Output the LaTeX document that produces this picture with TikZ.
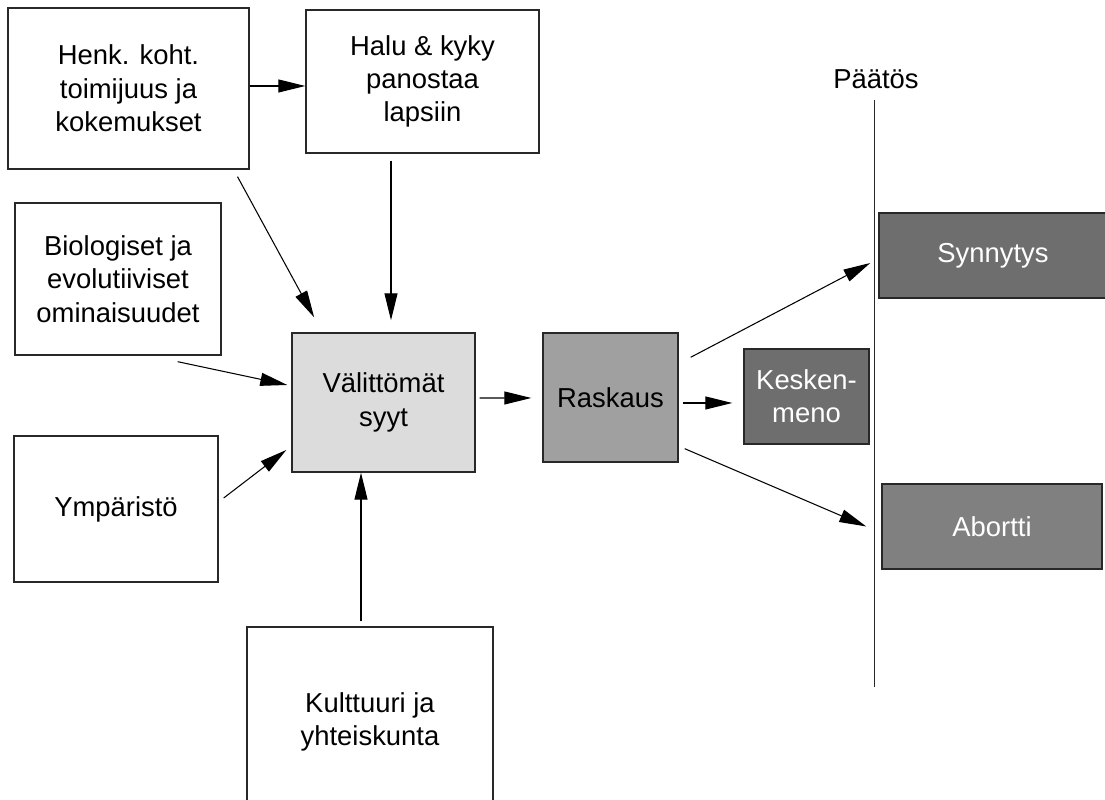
\documentclass[tikz,border=0pt]{standalone}
\usepackage{fontspec}
\setmainfont{Liberation Sans}
\usepackage{xcolor}
\usetikzlibrary{arrows.meta}
\definecolor{lightbox}{RGB}{220,220,220}
\definecolor{midbox}{RGB}{160,160,160}
\definecolor{darkbox}{RGB}{110,110,110}
\definecolor{abortbox}{RGB}{128,128,128}
\definecolor{edge}{RGB}{40,40,40}
\tikzset{
  box/.style={draw=edge, line width=0.8pt, fill=white, align=center, inner sep=2pt,
    font=\fontsize{15.6}{19}\selectfont},
  darkfill/.style={box, text=white},
  arr/.style={-{Triangle[length=5.4mm,width=2.6mm]}, line width=0.6pt}
}

\begin{document}
\begin{tikzpicture}
			\useasboundingbox (0,0) rectangle (22.1,16);
			\node[box, minimum width=4.82cm, minimum height=3.22cm] (henk) at (2.57,14.23){Henk. koht.\\toimijuus ja\\kokemukset};
			\node[box, minimum width=4.66cm, minimum height=2.86cm] (halu) at (8.45,14.37){Halu \& kyky\\panostaa\\lapsiin};
			\node[box, minimum width=4.12cm, minimum height=3.04cm] (bio) at (2.36,10.42){Biologiset ja\\evolutiiviset\\ominaisuudet};
			\node[box, minimum width=4.08cm, minimum height=2.92cm] (ymp) at (2.32,5.82){Ympäristö};
			\node[box, fill=lightbox, minimum width=3.66cm, minimum height=2.78cm] (valitt) at (7.67,7.95){Välittömät\\syyt};
			\node[box, minimum width=4.92cm, minimum height=3.8cm] (kult) at (7.40,1.56){Kulttuuri ja\\yhteiskunta};
			\node[box, fill=midbox, minimum width=2.70cm, minimum height=2.58cm] (rask) at (12.21,8.05){Raskaus};
			\node[darkfill, fill=darkbox, minimum width=2.50cm, minimum height=1.90cm] (kesk) at (16.13,8.07){Kesken-\\meno};
			\node[darkfill, fill=darkbox, minimum width=4.56cm, minimum height=1.70cm] (synn) at (19.86,10.89){Synnytys};
			\node[darkfill, fill=abortbox, minimum width=4.40cm, minimum height=1.70cm] (abort) at (19.84,5.47){Abortti};
			% decision line
			\node[font=\fontsize{15.6}{19}\selectfont] (paatos) at (17.52,14.42){Päätös};
			\coordinate (ptop) at (17.49,14.0);
			\coordinate (pbot) at (17.49,2.26);
			\draw[line width=0.6pt, edge] (ptop) -- (pbot);
			% causes
			\draw[arr] ([yshift=0.05cm]henk.east) -- ([yshift=0.05cm]henk.east -| halu.west);
			\draw[arr, shorten <=0.16cm, shorten >=0.34cm] ([xshift=-0.32cm]henk.south east) -- ([xshift=0.62cm]valitt.north west);
			\draw[arr, shorten <=0.14cm, shorten >=0.24cm] ([xshift=-0.63cm]halu.south) -- ([xshift=-0.63cm]halu.south |- valitt.north);
			\draw[arr] ([shift={(-0.88,-0.12)}]bio.south east) -- ([shift={(-0.08,0.35)}]valitt.west);
			\draw[arr] ([shift={(0.1,0.22)}]ymp.east) -- ([shift={(-0.1,-0.95)}]valitt.west);
			\draw[arr] ([xshift=-0.18cm,yshift=0.1cm]kult.north) -- ([xshift=-0.18cm]kult.north |- valitt.south);
			% outcomes
			\draw[arr] ([shift={(0.08,0.09)}]valitt.east) -- ([shift={(-0.22,-0.01)}]rask.west);
			\draw[arr] ([shift={(0.08,-0.11)}]rask.east) -- ([shift={(-0.22,-0.13)}]kesk.west);
			\draw[arr] ([shift={(0.24,-0.5)}]rask.north east) -- ([shift={(-0.16,-0.15)}]synn.west);
			\draw[arr] ([shift={(0.12,0.28)}]rask.south east) -- ([shift={(-0.3,0)}]abort.west);
		\end{tikzpicture}
\end{document}
